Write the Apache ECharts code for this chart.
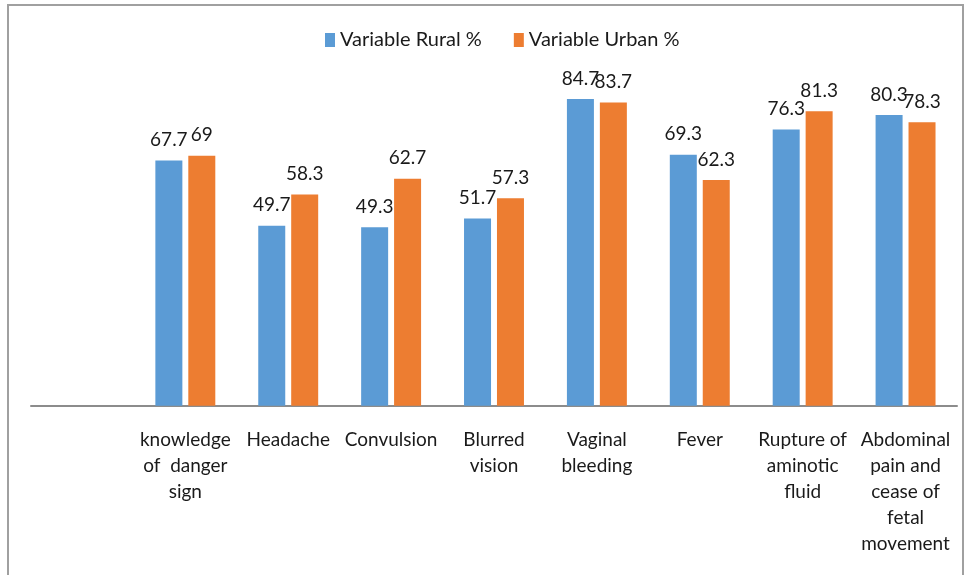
<!DOCTYPE html>
<html lang="en">
<head>
    <meta charset="utf-8">
    <title>Danger signs</title>
    <script src="https://cdn.jsdelivr.net/npm/echarts@6/dist/echarts.min.js"></script>
    <style>
        body { margin: 0; background: #fff; }
    </style>
</head>
<body>
    <div id="main" style="width: 969px;height:575px;"></div>
<script type="text/javascript">
    // categories (first slot is empty in the original)
    var categories = ['', 'knowledge\nof  danger\nsign', 'Headache', 'Convulsion', 'Blurred\nvision',
        'Vaginal\nbleeding', 'Fever', 'Rupture of\naminotic\nfluid', 'Abdominal\npain and\ncease of\nfetal\nmovement'];
    var rural = ['-', 67.7, 49.7, 49.3, 51.7, 84.7, 69.3, 76.3, 80.3];
    var urban = ['-', 69, 58.3, 62.7, 57.3, 83.7, 62.3, 81.3, 78.3];
    var seriesNames = ['Variable Rural %', 'Variable Urban %'];

    var font = 'Lato, "Liberation Sans", sans-serif';

    var myChart = echarts.init(document.getElementById('main'));

    var labelStyle = {
        show: true,
        position: 'top',
        distance: 11,
        color: '#1a1a1a',
        fontFamily: font,
        fontSize: 19
    };

    var option = {
        animation: false,
        textStyle: { fontFamily: font },
        graphic: [{
            type: 'rect',
            shape: { x: 8, y: 5, width: 955, height: 600 },
            style: { fill: 'none', stroke: '#a0a0a0', lineWidth: 2 }
        }],
        legend: {
            top: 25,
            left: 320,
            icon: 'rect',
            itemWidth: 10,
            itemHeight: 14,
            itemGap: 32,
            textStyle: { fontSize: 20, color: '#1a1a1a', fontFamily: font },
            data: seriesNames
        },
        grid: {
            left: 31,
            right: 12,
            top: 43.6,
            bottom: 169.3
        },
        xAxis: {
            type: 'category',
            data: categories,
            axisTick: { show: false },
            axisLine: { lineStyle: { color: '#8c8c8c', width: 2 } },
            axisLabel: {
                interval: 0,
                margin: 21,
                color: '#1a1a1a',
                fontSize: 19,
                lineHeight: 26,
                fontFamily: font
            }
        },
        yAxis: {
            type: 'value',
            min: 0,
            max: 100,
            show: false,
            splitLine: { show: false }
        },
        series: [{
            name: seriesNames[0],
            type: 'bar',
            data: rural,
            barWidth: 27,
            barGap: '22%',
            itemStyle: { color: '#5B9BD5' },
            label: labelStyle
        }, {
            name: seriesNames[1],
            type: 'bar',
            data: urban,
            barWidth: 27,
            itemStyle: { color: '#ED7D31' },
            label: labelStyle
        }]
    };

    myChart.setOption(option);
</script>
</body>
</html>
